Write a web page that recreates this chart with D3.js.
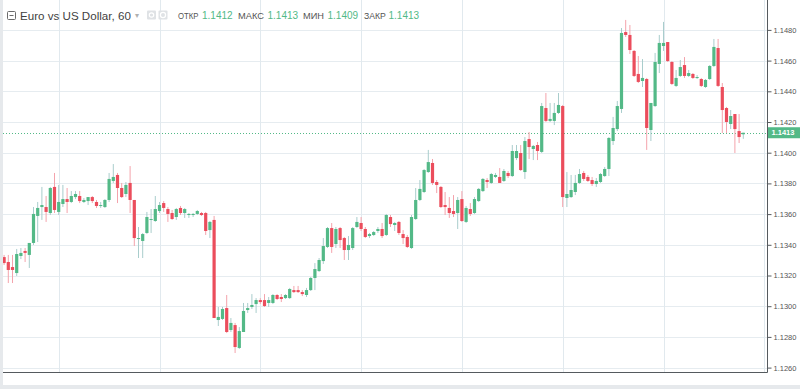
<!DOCTYPE html>
<html><head><meta charset="utf-8">
<script src="https://cdnjs.cloudflare.com/ajax/libs/d3/7.8.5/d3.min.js"></script>
<style>
html,body{margin:0;padding:0;background:#e6e9ec;}
svg{display:block;}
</style></head><body>
<svg id="chart" width="800" height="389"></svg>
<script>
// ---------------- data ----------------
const symbolTitle = "Euro vs US Dollar, 60";
const ohlcLabels = ["ОТКР", "МАКС", "МИН", "ЗАКР"];
const ohlcValues = ["1.1412", "1.1413", "1.1409", "1.1413"];
const lastPrice = 1.1413;
const lastPriceLabel = "1.1413";
const dayLabels = ["13", "14", "15", "18", "19", "20", "21", "22"];
const dayStartIndex = [13, 37, 61, 85, 109, 133, 157, 181];
const priceTicks = [1.1260, 1.1280, 1.1300, 1.1320, 1.1340, 1.1360, 1.1380, 1.1400, 1.1420, 1.1440, 1.1460, 1.1480];

const open = [
1.13320,1.13288,1.13255,1.13216,1.13327,1.13360,1.13334,1.13412,1.13588,1.13646,1.13646,1.13607,1.13777,
1.13614,1.13666,1.13698,1.13679,1.13711,1.13718,1.13679,1.13685,1.13711,1.13679,1.13653,1.13646,1.13692,1.13816,1.13855,1.13770,1.13731,1.13803,1.13692,1.13438,1.13425,1.13477,1.13562,1.13555,
1.13620,1.13672,1.13633,1.13607,1.13581,1.13640,1.13607,1.13594,1.13594,1.13601,1.13607,1.13607,1.13496,1.13562,1.12910,1.12917,1.12988,1.12845,1.12877,1.12728,1.12832,1.12975,1.12995,1.13014,
1.13040,1.13040,1.13021,1.13021,1.13073,1.13060,1.13053,1.13053,1.13105,1.13105,1.13092,1.13073,1.13105,1.13184,1.13229,1.13294,1.13386,1.13509,1.13405,1.13509,1.13444,1.13366,1.13379,1.13516,
1.13542,1.13503,1.13457,1.13464,1.13490,1.13503,1.13464,1.13581,1.13529,1.13549,1.13470,1.13451,1.13379,1.13568,1.13692,1.13744,1.13874,1.13933,1.13809,1.13777,1.13659,1.13640,1.13620,1.13607,
1.13698,1.13549,1.13633,1.13607,1.13685,1.13750,1.13822,1.13803,1.13842,1.13842,1.13816,1.13868,1.13848,1.13965,1.13998,1.13874,1.14089,1.14024,1.14050,1.14005,1.14291,1.14207,1.14207,1.14259,
1.14304,1.13705,1.13711,1.13744,1.13803,1.13868,1.13842,1.13822,1.13796,1.13809,1.13848,1.13894,1.14076,1.14154,1.14285,1.14786,1.14767,1.14663,1.14513,1.14467,1.14480,1.14148,1.14304,1.14578,
1.14695,1.14721,1.14591,1.14435,1.14500,1.14571,1.14500,1.14513,1.14487,1.14480,1.14428,1.14480,1.14565,1.14682,1.14428,1.14291,1.14187,1.14252,1.14141,1.14120];

const high = [
1.13334,1.13334,1.13334,1.13373,1.13379,1.13379,1.13412,1.13646,1.13679,1.13777,1.13718,1.13777,1.13868,
1.13790,1.13790,1.13770,1.13750,1.13750,1.13750,1.13705,1.13711,1.13718,1.13692,1.13679,1.13698,1.13868,1.13926,1.13868,1.13803,1.13809,1.13913,1.13692,1.13516,1.13477,1.13614,1.13633,1.13718,
1.13679,1.13685,1.13646,1.13627,1.13640,1.13653,1.13640,1.13607,1.13607,1.13627,1.13614,1.13614,1.13555,1.13588,1.12995,1.12995,1.13073,1.12923,1.12891,1.12864,1.13021,1.13021,1.13079,1.13053,
1.13053,1.13079,1.13060,1.13079,1.13079,1.13079,1.13079,1.13119,1.13132,1.13132,1.13105,1.13119,1.13190,1.13281,1.13314,1.13444,1.13516,1.13542,1.13516,1.13516,1.13451,1.13457,1.13516,1.13581,
1.13581,1.13516,1.13477,1.13490,1.13516,1.13542,1.13601,1.13594,1.13549,1.13555,1.13496,1.13464,1.13594,1.13770,1.13822,1.13894,1.14018,1.13959,1.13822,1.13783,1.13744,1.13711,1.13724,1.13711,
1.13750,1.13653,1.13672,1.13711,1.13770,1.13835,1.13835,1.13868,1.13868,1.13900,1.13894,1.13881,1.14050,1.14050,1.14050,1.14102,1.14135,1.14050,1.14070,1.14324,1.14389,1.14324,1.14324,1.14389,
1.14311,1.13874,1.13855,1.13855,1.13894,1.13881,1.13855,1.13842,1.13835,1.13868,1.13907,1.14102,1.14233,1.14337,1.14812,1.14865,1.14832,1.14669,1.14630,1.14610,1.14487,1.14324,1.14650,1.14767,
1.14852,1.14721,1.14597,1.14539,1.14604,1.14623,1.14539,1.14519,1.14506,1.14487,1.14480,1.14571,1.14741,1.14741,1.14454,1.14298,1.14278,1.14252,1.14252,1.14130];

const low = [
1.13268,1.13151,1.13151,1.13197,1.13307,1.13288,1.13249,1.13399,1.13418,1.13562,1.13549,1.13594,1.13607,
1.13594,1.13646,1.13607,1.13672,1.13698,1.13672,1.13672,1.13659,1.13672,1.13640,1.13640,1.13640,1.13679,1.13803,1.13672,1.13705,1.13711,1.13607,1.13392,1.13314,1.13314,1.13470,1.13477,1.13549,
1.13607,1.13614,1.13549,1.13562,1.13562,1.13594,1.13575,1.13575,1.13581,1.13594,1.13588,1.13464,1.13444,1.12923,1.12871,1.12910,1.12825,1.12832,1.12695,1.12721,1.12832,1.12956,1.12982,1.12956,
1.13014,1.12995,1.12995,1.13014,1.13040,1.13027,1.13047,1.13047,1.13086,1.13086,1.13066,1.13060,1.13099,1.13105,1.13223,1.13275,1.13379,1.13347,1.13379,1.13379,1.13301,1.13301,1.13366,1.13509,
1.13490,1.13444,1.13444,1.13457,1.13477,1.13444,1.13457,1.13516,1.13490,1.13464,1.13405,1.13379,1.13373,1.13562,1.13685,1.13737,1.13868,1.13790,1.13737,1.13640,1.13594,1.13575,1.13581,1.13503,
1.13549,1.13542,1.13588,1.13601,1.13679,1.13744,1.13770,1.13796,1.13835,1.13803,1.13809,1.13835,1.13842,1.13952,1.13881,1.13829,1.13959,1.13952,1.13952,1.13998,1.14200,1.14200,1.14180,1.14252,
1.13646,1.13646,1.13705,1.13724,1.13796,1.13816,1.13809,1.13783,1.13777,1.13803,1.13842,1.13848,1.14050,1.14141,1.14259,1.14754,1.14643,1.14493,1.14454,1.14428,1.14018,1.14076,1.14298,1.14519,
1.14663,1.14591,1.14441,1.14428,1.14493,1.14487,1.14493,1.14480,1.14480,1.14428,1.14422,1.14474,1.14558,1.14428,1.14128,1.14128,1.14154,1.13998,1.14063,1.14090];

const close = [
1.13281,1.13236,1.13236,1.13340,1.13347,1.13347,1.13412,1.13601,1.13640,1.13659,1.13614,1.13770,1.13627,
1.13679,1.13698,1.13679,1.13718,1.13731,1.13685,1.13692,1.13711,1.13685,1.13653,1.13659,1.13692,1.13829,1.13842,1.13770,1.13711,1.13790,1.13692,1.13444,1.13444,1.13470,1.13581,1.13568,1.13633,
1.13659,1.13640,1.13601,1.13568,1.13633,1.13607,1.13633,1.13601,1.13601,1.13620,1.13594,1.13490,1.13549,1.12923,1.12930,1.12982,1.12832,1.12891,1.12734,1.12838,1.12969,1.12988,1.13008,1.13040,
1.13027,1.13001,1.13040,1.13073,1.13047,1.13047,1.13073,1.13112,1.13092,1.13092,1.13079,1.13105,1.13184,1.13242,1.13301,1.13392,1.13509,1.13386,1.13503,1.13431,1.13366,1.13399,1.13509,1.13549,
1.13503,1.13451,1.13470,1.13483,1.13503,1.13457,1.13594,1.13535,1.13542,1.13477,1.13444,1.13386,1.13581,1.13692,1.13764,1.13887,1.13939,1.13803,1.13790,1.13646,1.13646,1.13607,1.13601,1.13692,
1.13555,1.13640,1.13601,1.13698,1.13764,1.13829,1.13809,1.13861,1.13855,1.13803,1.13881,1.13848,1.14011,1.14011,1.13887,1.14076,1.14037,1.14044,1.14011,1.14304,1.14207,1.14220,1.14259,1.14311,
1.13711,1.13731,1.13757,1.13803,1.13861,1.13829,1.13816,1.13796,1.13816,1.13861,1.13894,1.14096,1.14161,1.14304,1.14780,1.14767,1.14669,1.14500,1.14461,1.14487,1.14161,1.14324,1.14591,1.14715,
1.14715,1.14597,1.14448,1.14487,1.14558,1.14500,1.14519,1.14487,1.14493,1.14435,1.14474,1.14565,1.14689,1.14435,1.14278,1.14200,1.14239,1.14154,1.14102,1.14130];

// ---------------- layout ----------------
const W = 800, H = 389;
const plot = {left: 3, right: 767, top: 0, bottom: 372};
const UP = "#53b987", DOWN = "#eb4d5c";
const UP_WICK = "#a9cdcc", DOWN_WICK = "#f4a3ac";
const GRID = "#e6ecf0";
const AXIS = "#555a5e";
const TEXT = "#555";

const svg = d3.select("#chart");
svg.append("rect").attr("x", 0).attr("y", 0).attr("width", W).attr("height", H).attr("fill", "#e6e9ec");
svg.append("rect").attr("x", 3).attr("y", 0).attr("width", W - 3).attr("height", 385).attr("fill", "#ffffff");

const n = open.length;
const x = d3.scaleLinear().domain([0, 180]).range([4.1, 4.1 + 180 * 4.2]);
const y = d3.scaleLinear().domain([1.1260, 1.1480]).range([367.6, 29.9]);

const defs = svg.append("defs");
defs.append("clipPath").attr("id", "plotClip").append("rect")
  .attr("x", plot.left).attr("y", plot.top).attr("width", plot.right - plot.left).attr("height", plot.bottom - plot.top);

// grid
const grid = svg.append("g");
grid.selectAll("line.h").data(priceTicks).join("line")
  .attr("x1", plot.left).attr("x2", plot.right)
  .attr("y1", d => Math.round(y(d)) + 0.5).attr("y2", d => Math.round(y(d)) + 0.5)
  .attr("stroke", GRID).attr("stroke-width", 1);
grid.selectAll("line.v").data(dayStartIndex.filter(d => x(d) < plot.right)).join("line")
  .attr("x1", d => Math.round(x(d)) + 0.5).attr("x2", d => Math.round(x(d)) + 0.5)
  .attr("y1", plot.top).attr("y2", plot.bottom)
  .attr("stroke", "#e1e9ee").attr("stroke-width", 1);

// last price dotted line
svg.append("line")
  .attr("x1", plot.left).attr("x2", plot.right)
  .attr("y1", Math.round(y(lastPrice)) + 0.5).attr("y2", Math.round(y(lastPrice)) + 0.5)
  .attr("stroke", UP).attr("stroke-width", 1).attr("stroke-dasharray", "1,2");

// candles
const idx = d3.range(n);
const cg = svg.append("g").attr("clip-path", "url(#plotClip)");
cg.selectAll("line.wick").data(idx).join("line")
  .attr("x1", i => x(i)).attr("x2", i => x(i))
  .attr("y1", i => y(high[i])).attr("y2", i => y(low[i]))
  .attr("stroke", i => close[i] >= open[i] ? UP_WICK : DOWN_WICK).attr("stroke-width", 1);
cg.selectAll("rect.body").data(idx).join("rect")
  .attr("x", i => x(i) - 1.6).attr("width", 3.2)
  .attr("y", i => y(Math.max(open[i], close[i])))
  .attr("height", i => Math.max(1, Math.abs(y(open[i]) - y(close[i]))))
  .attr("fill", i => close[i] >= open[i] ? UP : DOWN);

// right axis
const yAxis = d3.axisRight(y).tickValues(priceTicks).tickFormat(d3.format(".4f")).tickSize(4).tickPadding(2);
const ya = svg.append("g").attr("transform", `translate(${plot.right + 0.5},0)`).call(yAxis);
ya.select(".domain").remove();
ya.selectAll("line").attr("stroke", AXIS);
ya.selectAll("text").attr("fill", TEXT).style("font-family", "Liberation Sans, Arial, sans-serif").style("font-size", "7.5px");
svg.append("line").attr("x1", plot.right + 0.5).attr("x2", plot.right + 0.5).attr("y1", 0).attr("y2", plot.bottom + 0.5)
  .attr("stroke", AXIS).attr("stroke-width", 1);

// bottom axis
defs.append("clipPath").attr("id", "xClip").append("rect")
  .attr("x", 0).attr("y", plot.bottom - 2).attr("width", plot.right).attr("height", 20);
const xAxis = d3.axisBottom(x).tickValues(dayStartIndex).tickFormat((d, i) => dayLabels[i]).tickSize(3).tickPadding(2);
const xa = svg.append("g").attr("transform", `translate(0,${plot.bottom + 0.5})`).attr("clip-path", "url(#xClip)").call(xAxis);
xa.select(".domain").remove();
xa.selectAll("line").attr("stroke", AXIS);
xa.selectAll("text").attr("fill", TEXT).style("font-family", "Liberation Sans, Arial, sans-serif").style("font-size", "7.5px");
svg.append("line").attr("x1", plot.left).attr("x2", plot.right + 0.5).attr("y1", plot.bottom + 0.5).attr("y2", plot.bottom + 0.5)
  .attr("stroke", AXIS).attr("stroke-width", 1);

// last price label
const ly = y(lastPrice);
svg.append("rect").attr("x", plot.right + 1).attr("y", ly - 5.5).attr("width", W - plot.right - 1).attr("height", 11).attr("fill", UP);
svg.append("text").attr("x", plot.right + 4.5).attr("y", ly + 2.7).text(lastPriceLabel)
  .attr("fill", "#fff").style("font-family", "Liberation Sans, Arial, sans-serif").style("font-size", "7.5px").style("font-weight", "bold");

// header
const hg = svg.append("g").style("font-family", "Liberation Sans, Arial, sans-serif");
hg.append("rect").attr("x", 7.5).attr("y", 11.5).attr("width", 8).attr("height", 8).attr("rx", 1)
  .attr("fill", "#fff").attr("stroke", "#6b6b6b").attr("stroke-width", 1);
hg.append("line").attr("x1", 9.5).attr("x2", 13.5).attr("y1", 15.5).attr("y2", 15.5).attr("stroke", "#6b6b6b");
hg.append("text").attr("x", 20).attr("y", 19.5).text(symbolTitle).attr("fill", "#3f3f3f").style("font-size", "11.6px");
hg.append("text").attr("x", 134.5).attr("y", 18).text("▾").attr("fill", "#b0b0b0").style("font-size", "8px");
[147, 158.5].forEach((bx, k) => {
  hg.append("rect").attr("x", bx).attr("y", 10.5).attr("width", 9).attr("height", 9).attr("rx", 1).attr("fill", "#dfe2e5");
  hg.append("circle").attr("cx", bx + 4.5).attr("cy", 15).attr("r", k === 0 ? 2.2 : 2.6).attr("fill", "none").attr("stroke", "#fff").attr("stroke-width", 1.2);
});
const labelX = [178, 238, 303, 364];
const labelW = [20.5, 26, 21, 21.8];
const valueX = [202, 267.5, 327.5, 388.5];
ohlcLabels.forEach((lab, i) => {
  hg.append("text").attr("x", labelX[i]).attr("y", 19).text(lab).attr("fill", "#555")
    .attr("textLength", labelW[i]).attr("lengthAdjust", "spacingAndGlyphs").style("font-size", "9.6px");
  hg.append("text").attr("x", valueX[i]).attr("y", 19).text(ohlcValues[i]).attr("fill", UP).style("font-size", "10px");
});
</script>
</body></html>
